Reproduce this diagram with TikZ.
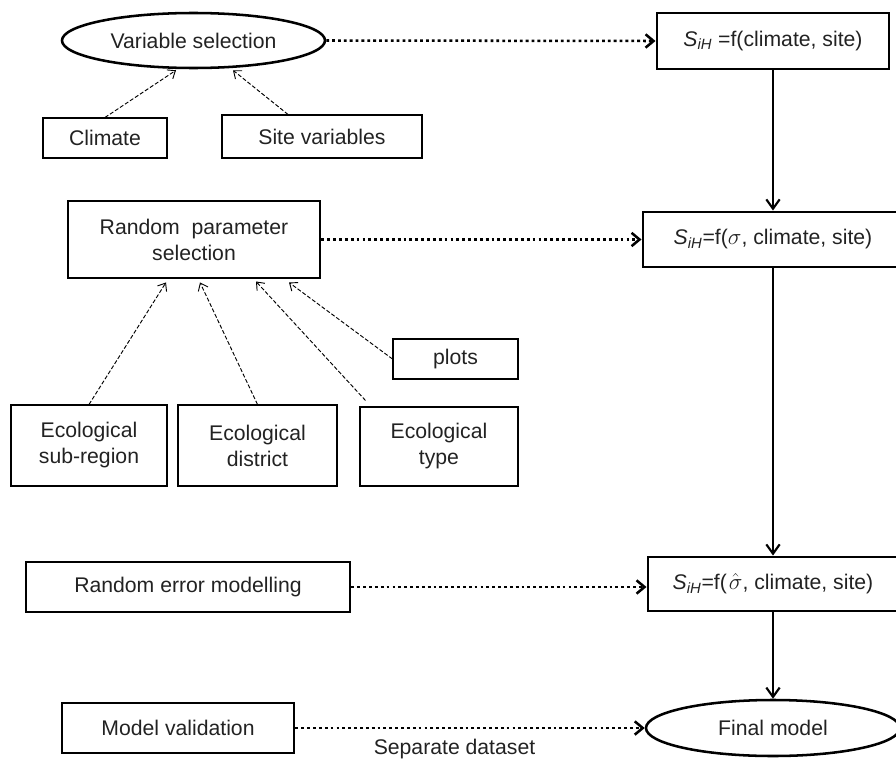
\documentclass[tikz,border=0pt]{standalone}
\usepackage{fontspec}
\setmainfont{Liberation Sans}
\usetikzlibrary{shapes.geometric,arrows.meta,calc}
\definecolor{txt}{HTML}{222222}
\begin{document}
\begin{tikzpicture}[x=0.75pt,y=-0.75pt,
  font=\fontsize{15.9}{19.5}\selectfont,
  thickbox/.style={draw, rectangle, line width=2.2pt, inner sep=0pt, align=center, text=txt},
  thinbox/.style={draw, rectangle, line width=0.8pt, inner sep=0pt, align=center, text=txt},
  oval/.style={draw, ellipse, line width=1.9pt, inner sep=0pt, align=center, text=txt},
  dotarrow/.style={line width=1.9pt, dash pattern=on 2.1pt off 2.3pt, -{Straight Barb[length=6pt,width=10pt]}},
  dasharrow/.style={line width=0.7pt, dash pattern=on 3pt off 1.5pt, -{Straight Barb[length=5pt,width=8pt]}},
  solidarrow/.style={line width=1.6pt, -{Straight Barb[length=7pt,width=10pt]}}
]
\useasboundingbox (0,0) rectangle (896,760);

% top level
\node[oval, minimum width=197.25pt, minimum height=41.25pt] (vs) at (193.5,40.5) {Variable selection};
\node[thinbox, minimum width=93pt, minimum height=30pt] (climate) at (105,138) {Climate};
\node[thinbox, minimum width=150pt, minimum height=32.25pt] (site) at (322,136.5) {Site variables};
\node[thickbox, minimum width=174pt, minimum height=42pt] (s1) at (773,41) {\textit{S}\textsubscript{\textit{iH}} =f(climate, site)};

% random parameter
\node[thickbox, minimum width=189pt, minimum height=57.75pt] (rps) at (194,239.5) {Random\ \ parameter\\selection};
\node[thickbox, minimum width=195pt, minimum height=41.25pt] (s2) at (773,239.5) {\textit{S}\textsubscript{\textit{iH}}=f($\sigma$, climate, site)};
\node[thinbox, minimum width=117pt, minimum height=60.75pt] (subr) at (89,445.5) {Ecological\\sub-region};
\node[thinbox, minimum width=119.25pt, minimum height=60.75pt] (dist) at (257.5,445.5) {Ecological\\district};
\node[thinbox, minimum width=118.5pt, minimum height=59.25pt] (etype) at (439,446.5) {Ecological\\type};
\node[thinbox, minimum width=93.75pt, minimum height=30pt] (plots) at (455.5,359) {plots};

% random error
\node[thickbox, minimum width=243pt, minimum height=37.5pt] (rerr) at (188,587) {Random error modelling};
\node[thickbox, minimum width=187.5pt, minimum height=40.5pt] (s3) at (773,584) {\textit{S}\textsubscript{\textit{iH}}=f(\kern1.5pt$\hat{\sigma}$, climate, site)};

% validation
\node[thickbox, minimum width=174pt, minimum height=37.5pt] (mv) at (178,728) {Model validation};
\node[oval, minimum width=190.5pt, minimum height=42pt] (final) at (773,728) {Final model};
\node[text=txt, inner sep=0pt] (sep) at (454.5,749) {Separate dataset};

% thin dashed arrows
\draw[dasharrow] (climate.north) -- ($(vs.south)+(-17.5,1)$);
\draw[dasharrow] ($(site.north)+(-34,0)$) -- ($(vs.south)+(39.5,1)$);
\draw[dasharrow] (subr.north) -- ($(rps.south)+(-28,3)$);
\draw[dasharrow] (dist.north) -- ($(rps.south)+(6,3)$);
\draw[dasharrow] ($(etype.north west)+(6,-6)$) -- ($(rps.south)+(62,2)$);
\draw[dasharrow] (plots.west) -- ($(rps.south)+(95,3)$);

% thick dotted arrows
\draw[dotarrow] (vs.east) -- (s1.west);
\draw[dotarrow] (rps.east) -- (s2.west);
\draw[dotarrow] (rerr.east) -- (rerr.east -| s3.west);
\draw[dotarrow] (mv.east) -- (final.west);

% solid flow arrows
\draw[solidarrow] (s1) -- (s2);
\draw[solidarrow] (s2) -- (s3);
\draw[solidarrow] (s3) -- (final);
\end{tikzpicture}
\end{document}
